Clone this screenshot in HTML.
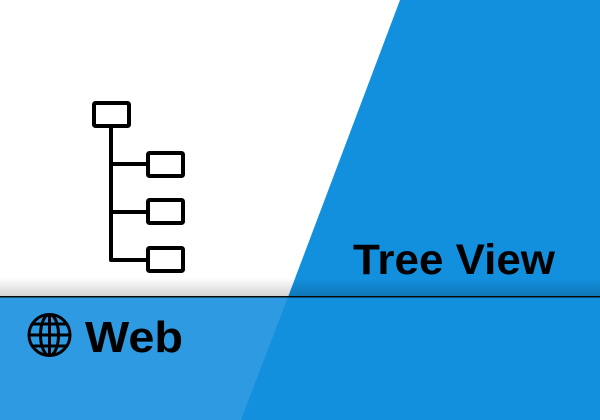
<!DOCTYPE html>
<html><head><style>html,body{margin:0;padding:0;width:600px;height:420px;overflow:hidden;background:#fff}</style></head>
<body>
<svg width="600" height="420" viewBox="0 0 600 420" xmlns="http://www.w3.org/2000/svg">
<defs>
<linearGradient id="sh" x1="0" y1="0" x2="0" y2="1">
<stop offset="0" stop-color="#000" stop-opacity="0"/>
<stop offset="1" stop-color="#000" stop-opacity="0.18"/>
</linearGradient>
</defs>
<rect width="600" height="420" fill="#fff"/>
<polygon points="400,0 600,0 600,297 288,297" fill="#1290de"/>
<rect x="0" y="297" width="600" height="123" fill="#2d9ae2"/>
<polygon points="288,297 600,297 600,420 241,420" fill="#1290de"/>
<rect x="0" y="278" width="600" height="19" fill="url(#sh)"/>
<rect x="0" y="296" width="600" height="1.5" fill="#0a0a0a"/>
<g fill="none" stroke="#000" stroke-width="4" stroke-linejoin="round">
<rect x="94" y="103" width="35" height="23" rx="1.5"/>
<rect x="148" y="153" width="35" height="23" rx="1.5"/>
<rect x="148" y="200" width="35" height="23" rx="1.5"/>
<rect x="148" y="248" width="35" height="23" rx="1.5"/>
<path d="M111 126 V260 H148 M111 164 H148 M111 212 H148"/>
</g>
<g fill="none" stroke="#000" stroke-width="3">
<circle cx="49.5" cy="335" r="20.5"/>
<ellipse cx="49.5" cy="335" rx="9" ry="20.5"/>
<line x1="49.5" y1="314.5" x2="49.5" y2="355.5"/>
<line x1="29" y1="335" x2="70" y2="335"/>
<line x1="32" y1="324" x2="67" y2="324"/>
<line x1="32" y1="346" x2="67" y2="346"/>
</g>
<text x="353" y="274" font-family="Liberation Sans, sans-serif" font-weight="bold" font-size="43" textLength="202" lengthAdjust="spacingAndGlyphs" fill="#000">Tree View</text>
<text x="85" y="352" font-family="Liberation Sans, sans-serif" font-weight="bold" font-size="44" textLength="98" lengthAdjust="spacingAndGlyphs" fill="#000">Web</text>
</svg>
</body></html>
